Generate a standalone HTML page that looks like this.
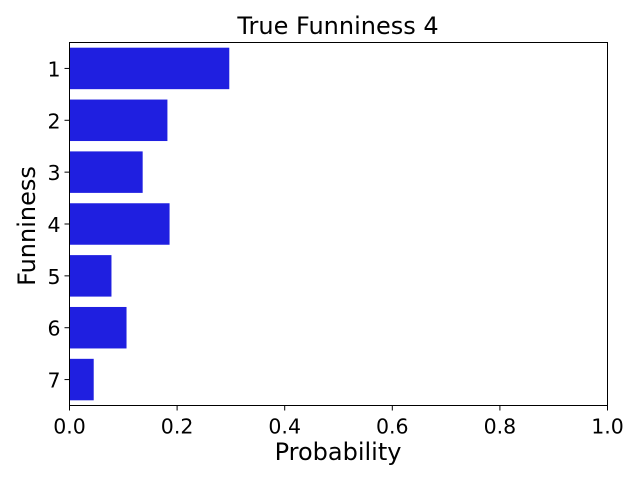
<!DOCTYPE html>
<html><head><meta charset="utf-8"><style>
body{margin:0;background:#fff;}
svg text{font-family:"DejaVu Sans","Liberation Sans",sans-serif;fill:#000;}
</style></head><body>
<svg id="chart" width="640" height="480">
<text x="338" y="34" font-size="24" text-anchor="middle">True Funniness 4</text>
<text x="338" y="460" font-size="24" text-anchor="middle">Probability</text>
<text transform="translate(35,226) rotate(-90)" font-size="24" text-anchor="middle">Funniness</text>
<g id="bars"></g>
<g id="ticks"></g>
<rect x="69.5" y="42.5" width="538" height="363" fill="none" stroke="#000" stroke-width="1"/>
</svg>
<script>
const categories = ["1","2","3","4","5","6","7"];
const values = [0.297, 0.182, 0.136, 0.186, 0.078, 0.106, 0.045];
const xTicks = [0, 0.2, 0.4, 0.6, 0.8, 1.0];
const xTickLabels = ["0.0","0.2","0.4","0.6","0.8","1.0"];
const L=69.5,R=607.5,T=42.5,B=405.5;
const xs=v=>L+v*(R-L);
const band=(B-T)/categories.length;
const ys=i=>T+band*i;
const ns="http://www.w3.org/2000/svg";
const bars=document.getElementById('bars'), ticks=document.getElementById('ticks');
categories.forEach((c,i)=>{
  const r=document.createElementNS(ns,'rect');
  r.setAttribute('x',xs(0));
  r.setAttribute('y',ys(i)+band*0.1);
  r.setAttribute('width',xs(values[i])-xs(0));
  r.setAttribute('height',band*0.8);
  r.setAttribute('fill','#1f1fe0');
  
  
  bars.appendChild(r);
  const yc=ys(i)+band/2;
  const l=document.createElementNS(ns,'line');
  l.setAttribute('x1',L-5);l.setAttribute('x2',L);l.setAttribute('y1',yc);l.setAttribute('y2',yc);l.setAttribute('stroke','#000');
  
  
  ticks.appendChild(l);
  const t=document.createElementNS(ns,'text');
  t.setAttribute('x',L-9);t.setAttribute('y',yc+8);t.setAttribute('font-size','20.5');t.setAttribute('text-anchor','end');
  t.textContent=c;
  
  
  ticks.appendChild(t);
});
xTicks.forEach((v,i)=>{
  const x=xs(v);
  const l=document.createElementNS(ns,'line');
  l.setAttribute('x1',x);l.setAttribute('x2',x);l.setAttribute('y1',B);l.setAttribute('y2',B+5);l.setAttribute('stroke','#000');
  
  
  ticks.appendChild(l);
  const t=document.createElementNS(ns,'text');
  t.setAttribute('x',x);t.setAttribute('y',B+28);t.setAttribute('font-size','20.5');t.setAttribute('text-anchor','middle');
  t.textContent=xTickLabels[i];
  
  
  ticks.appendChild(t);
});
</script>
</body></html>
